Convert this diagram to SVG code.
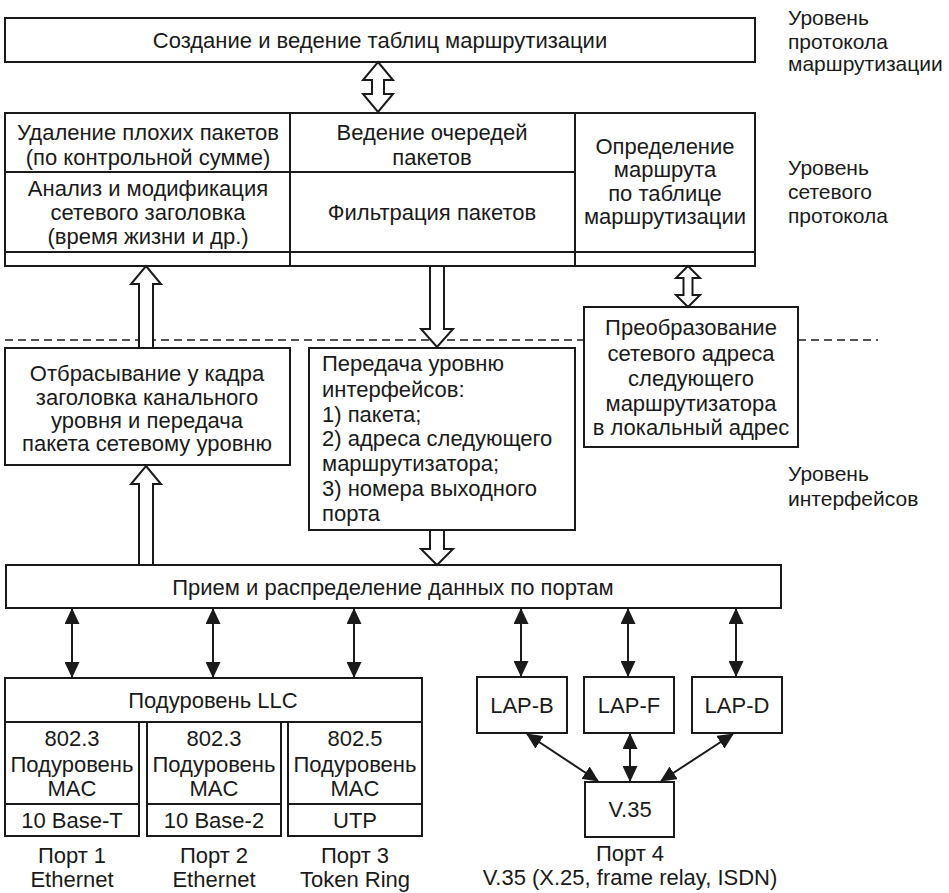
<svg xmlns="http://www.w3.org/2000/svg" width="949" height="893" viewBox="0 0 949 893">
<defs>
<marker id="ah" markerUnits="userSpaceOnUse" markerWidth="16" markerHeight="15" refX="15" refY="7.5" orient="auto-start-reverse" viewBox="0 0 16 15">
<path d="M0,0 L16,7.5 L0,15 Z" fill="#1a1a1a"/>
</marker>
<style>
.box{fill:#fff;stroke:#1a1a1a;stroke-width:2}
.ln{stroke:#1a1a1a;stroke-width:2;fill:none}
.ha{fill:#fff;stroke:#1a1a1a;stroke-width:2;stroke-linejoin:miter}
.sa{stroke:#1a1a1a;stroke-width:2;fill:none;marker-start:url(#ah);marker-end:url(#ah)}
text{font-family:"Liberation Sans",Arial,sans-serif;fill:#1a1a1a}
.t{font-size:22px;text-anchor:middle;dominant-baseline:central}
.tl{font-size:22px;dominant-baseline:central}
.lv{font-size:21px;dominant-baseline:central}
.b{font-size:22px;text-anchor:middle;dominant-baseline:central}
</style>
</defs>
<rect width="949" height="893" fill="#fff"/>

<g id="level-labels">
<text class="lv" x="788" y="17">Уровень</text>
<text class="lv" x="788" y="41">протокола</text>
<text class="lv" x="788" y="63">маршрутизации</text>
<text class="lv" x="788" y="167">Уровень</text>
<text class="lv" x="788" y="191">сетевого</text>
<text class="lv" x="788" y="215">протокола</text>
<text class="lv" x="788" y="473">Уровень</text>
<text class="lv" x="788" y="498">интерфейсов</text>
</g>

<g id="separator">
<line x1="5" y1="340" x2="878" y2="340" stroke="#1a1a1a" stroke-width="1.5" stroke-dasharray="8 5"/>
</g>

<g id="routing-tables">
<rect class="box" x="5" y="18" width="750" height="44"/>
<text class="t" x="380" y="40">Создание и ведение таблиц маршрутизации</text>
</g>

<g id="network-level">
<rect class="box" x="5" y="113" width="750" height="153"/>
<line class="ln" x1="290" y1="113" x2="290" y2="266"/>
<line class="ln" x1="575" y1="113" x2="575" y2="266"/>
<line class="ln" x1="5" y1="172" x2="575" y2="172"/>
<line class="ln" x1="5" y1="252" x2="755" y2="252"/>
<text class="t" x="148" y="132">Удаление плохих пакетов</text>
<text class="t" x="148" y="157">(по контрольной сумме)</text>
<text class="t" x="148" y="188">Анализ и модификация</text>
<text class="t" x="148" y="212">сетевого заголовка</text>
<text class="t" x="148" y="236">(время жизни и др.)</text>
<text class="t" x="432" y="132">Ведение очередей</text>
<text class="t" x="432" y="157">пакетов</text>
<text class="t" x="432" y="212">Фильтрация пакетов</text>
<text class="t" x="665" y="146">Определение</text>
<text class="t" x="665" y="169">маршрута</text>
<text class="t" x="665" y="193">по таблице</text>
<text class="t" x="665" y="216">маршрутизации</text>
</g>

<g id="strip-header">
<rect class="box" x="5" y="348" width="285" height="117"/>
<text class="t" x="147" y="373">Отбрасывание у кадра</text>
<text class="t" x="147" y="397">заголовка канального</text>
<text class="t" x="147" y="420">уровня и передача</text>
<text class="t" x="147" y="443">пакета сетевому уровню</text>
</g>

<g id="pass-to-interfaces">
<rect class="box" x="309" y="348" width="266" height="182"/>
<text class="tl" x="322" y="363">Передача уровню</text>
<text class="tl" x="322" y="389">интерфейсов:</text>
<text class="tl" x="322" y="414">1) пакета;</text>
<text class="tl" x="322" y="438">2) адреса следующего</text>
<text class="tl" x="322" y="463">маршрутизатора;</text>
<text class="tl" x="322" y="488">3) номера выходного</text>
<text class="tl" x="322" y="513">порта</text>
</g>

<g id="address-conversion">
<rect class="box" x="584" y="307" width="214" height="140"/>
<text class="t" x="691" y="327">Преобразование</text>
<text class="t" x="691" y="353">сетевого адреса</text>
<text class="t" x="691" y="378">следующего</text>
<text class="t" x="691" y="403">маршрутизатора</text>
<text class="t" x="691" y="427">в локальный адрес</text>
</g>

<g id="port-distribution">
<rect class="box" x="6" y="565" width="775" height="43"/>
<text class="t" x="393" y="587">Прием и распределение данных по портам</text>
</g>

<g id="llc">
<rect class="box" x="5" y="678" width="417" height="44"/>
<text class="b" x="213" y="700">Подуровень LLC</text>
</g>

<g id="port1">
<rect class="box" x="5" y="722" width="134" height="114"/>
<line class="ln" x1="5" y1="804" x2="139" y2="804"/>
<text class="b" x="72" y="738">802.3</text>
<text class="b" x="72" y="764">Подуровень</text>
<text class="b" x="72" y="788">MAC</text>
<text class="b" x="72" y="820">10 Base-T</text>
<text class="b" x="72" y="855">Порт 1</text>
<text class="b" x="72" y="879">Ethernet</text>
</g>

<g id="port2">
<rect class="box" x="147" y="722" width="134" height="114"/>
<line class="ln" x1="147" y1="804" x2="281" y2="804"/>
<text class="b" x="214" y="738">802.3</text>
<text class="b" x="214" y="764">Подуровень</text>
<text class="b" x="214" y="788">MAC</text>
<text class="b" x="214" y="820">10 Base-2</text>
<text class="b" x="214" y="855">Порт 2</text>
<text class="b" x="214" y="879">Ethernet</text>
</g>

<g id="port3">
<rect class="box" x="288" y="722" width="134" height="114"/>
<line class="ln" x1="288" y1="804" x2="422" y2="804"/>
<text class="b" x="355" y="738">802.5</text>
<text class="b" x="355" y="764">Подуровень</text>
<text class="b" x="355" y="788">MAC</text>
<text class="b" x="355" y="820">UTP</text>
<text class="b" x="355" y="855">Порт 3</text>
<text class="b" x="355" y="879">Token Ring</text>
</g>

<g id="lap-b">
<rect class="box" x="477" y="677" width="90" height="56"/>
<text class="b" x="522" y="705">LAP-B</text>
</g>
<g id="lap-f">
<rect class="box" x="584" y="677" width="90" height="56"/>
<text class="b" x="629" y="705">LAP-F</text>
</g>
<g id="lap-d">
<rect class="box" x="692" y="677" width="90" height="56"/>
<text class="b" x="737" y="705">LAP-D</text>
</g>
<g id="v35">
<rect class="box" x="585" y="782" width="89" height="55"/>
<text class="b" x="630" y="809">V.35</text>
<text class="b" x="630" y="853">Порт 4</text>
<text class="b" x="630" y="877">V.35 (X.25, frame relay, ISDN)</text>
</g>

<g id="connectors">
<polygon class="ha" points="378,62 393,80 384,80 384,94 393,94 378,112 363,94 372,94 372,80 363,80"/>
<polygon class="ha" points="146,266 161,284 153,284 153,348 139,348 139,284 131,284"/>
<polygon class="ha" points="430,266 444,266 444,329 453,329 437,347 421,329 430,329"/>
<polygon class="ha" points="688,266 700,278 692.5,278 692.5,295 700,295 688,307 676,295 683.5,295 683.5,278 676,278"/>
<polygon class="ha" points="146,466 161,484 153,484 153,565 139,565 139,484 131,484"/>
<polygon class="ha" points="430,530 444,530 444,549 453,549 437,565 421,549 430,549"/>
<line class="sa" x1="72" y1="609" x2="72" y2="677"/>
<line class="sa" x1="213" y1="609" x2="213" y2="677"/>
<line class="sa" x1="354" y1="609" x2="354" y2="677"/>
<line class="sa" x1="521" y1="609" x2="521" y2="676"/>
<line class="sa" x1="628" y1="609" x2="628" y2="676"/>
<line class="sa" x1="736" y1="609" x2="736" y2="676"/>
<line class="sa" x1="527" y1="734" x2="598" y2="781"/>
<line class="sa" x1="630" y1="734" x2="630" y2="781"/>
<line class="sa" x1="733" y1="734" x2="661" y2="781"/>
</g>
</svg>
